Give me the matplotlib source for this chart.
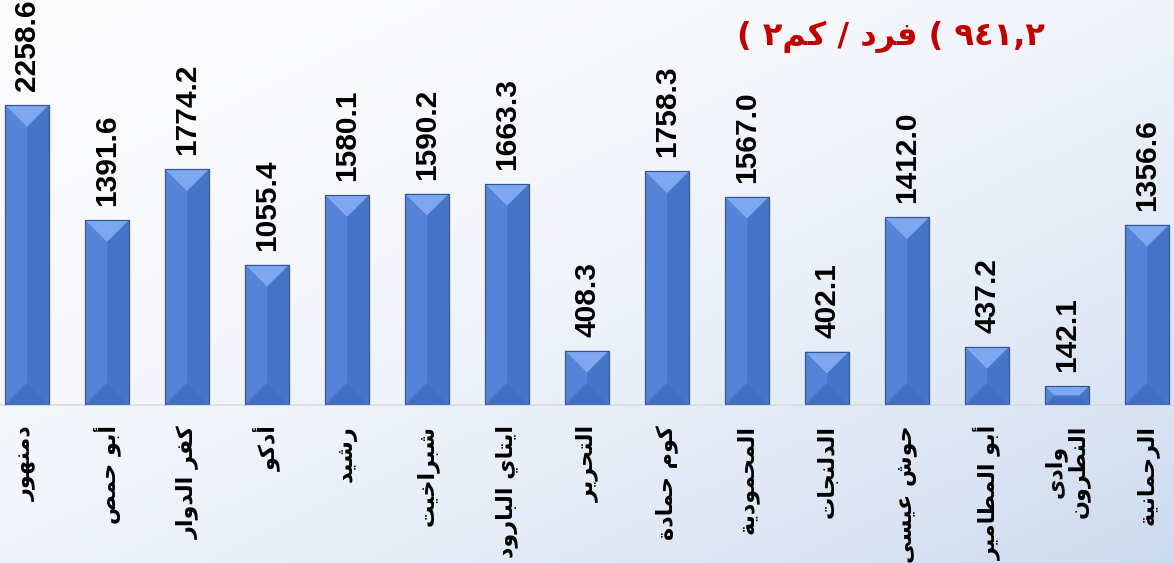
import numpy as np
import matplotlib
matplotlib.use("Agg")
import matplotlib.pyplot as plt
from matplotlib.patches import Polygon

# data
districts = ["دمنهور", "أبو حمص", "كفر الدوار", "أدكو", "رشيد", "شبراخيت",
             "ايتاي البارود", "التحرير", "كوم حمادة", "المحمودية", "الدلنجات",
             "حوش عيسى", "أبو المطامير", "وادى\nالنطرون", "الرحمانية"]
density = [2258.6, 1391.6, 1774.2, 1055.4, 1580.1, 1590.2, 1663.3, 408.3,
           1758.3, 1567.0, 402.1, 1412.0, 437.2, 142.1, 1356.6]
overall_value = "٩٤١,٢"
unit_word = "فرد"
unit_area = "كم"

# --- tiny arabic shaper (presentation forms) since matplotlib does no shaping
FORMS = {
    'ا': ('\uFE8D', '\uFE8E', None, None), 'أ': ('\uFE83', '\uFE84', None, None),
    'إ': ('\uFE87', '\uFE88', None, None), 'آ': ('\uFE81', '\uFE82', None, None),
    'ب': ('\uFE8F', '\uFE90', '\uFE91', '\uFE92'), 'ة': ('\uFE93', '\uFE94', None, None),
    'ت': ('\uFE95', '\uFE96', '\uFE97', '\uFE98'), 'ث': ('\uFE99', '\uFE9A', '\uFE9B', '\uFE9C'),
    'ج': ('\uFE9D', '\uFE9E', '\uFE9F', '\uFEA0'), 'ح': ('\uFEA1', '\uFEA2', '\uFEA3', '\uFEA4'),
    'خ': ('\uFEA5', '\uFEA6', '\uFEA7', '\uFEA8'), 'د': ('\uFEA9', '\uFEAA', None, None),
    'ذ': ('\uFEAB', '\uFEAC', None, None), 'ر': ('\uFEAD', '\uFEAE', None, None),
    'ز': ('\uFEAF', '\uFEB0', None, None), 'س': ('\uFEB1', '\uFEB2', '\uFEB3', '\uFEB4'),
    'ش': ('\uFEB5', '\uFEB6', '\uFEB7', '\uFEB8'), 'ص': ('\uFEB9', '\uFEBA', '\uFEBB', '\uFEBC'),
    'ض': ('\uFEBD', '\uFEBE', '\uFEBF', '\uFEC0'), 'ط': ('\uFEC1', '\uFEC2', '\uFEC3', '\uFEC4'),
    'ظ': ('\uFEC5', '\uFEC6', '\uFEC7', '\uFEC8'), 'ع': ('\uFEC9', '\uFECA', '\uFECB', '\uFECC'),
    'غ': ('\uFECD', '\uFECE', '\uFECF', '\uFED0'), 'ف': ('\uFED1', '\uFED2', '\uFED3', '\uFED4'),
    'ق': ('\uFED5', '\uFED6', '\uFED7', '\uFED8'), 'ك': ('\uFED9', '\uFEDA', '\uFEDB', '\uFEDC'),
    'ل': ('\uFEDD', '\uFEDE', '\uFEDF', '\uFEE0'), 'م': ('\uFEE1', '\uFEE2', '\uFEE3', '\uFEE4'),
    'ن': ('\uFEE5', '\uFEE6', '\uFEE7', '\uFEE8'), 'ه': ('\uFEE9', '\uFEEA', '\uFEEB', '\uFEEC'),
    'و': ('\uFEED', '\uFEEE', None, None), 'ى': ('\uFEEF', '\uFEF0', None, None),
    'ي': ('\uFEF1', '\uFEF2', '\uFEF3', '\uFEF4'),
}


def shape(line):
    out = []
    for i, c in enumerate(line):
        if c not in FORMS:
            out.append(c)
            continue
        iso, fin, ini, med = FORMS[c]
        prev = line[i - 1] if i > 0 else None
        nxt = line[i + 1] if i < len(line) - 1 else None
        jp = prev in FORMS and FORMS[prev][2] is not None
        jn = nxt in FORMS and ini is not None
        if jp and jn:
            out.append(med)
        elif jp:
            out.append(fin)
        elif jn:
            out.append(ini)
        else:
            out.append(iso)
    return ''.join(out)


def visual(text):
    return '\n'.join(shape(l)[::-1] for l in text.split('\n'))


W, H, DPI = 11.74, 5.63, 100
fig = plt.figure(figsize=(W, H), dpi=DPI)

# background gradient
bg = fig.add_axes([0, 0, 1, 1], zorder=-5)
gx, gy = np.meshgrid(np.linspace(0, 1, 300), np.linspace(0, 1, 150))
t = np.clip(0.5 * gx + 0.5 * gy, 0, 1) ** 2
c0 = np.array([0.985, 0.985, 0.99])
c1 = np.array([0.80, 0.855, 0.94])
grad = c0 + t[..., None] * (c1 - c0)
bg.imshow(grad, aspect='auto', extent=[0, 1, 0, 1], origin='upper')
bg.axis('off')

ax_rect = [0, 0.2806, 1, 0.7194]
ax = fig.add_axes(ax_rect)
ax.patch.set_alpha(0)
x = np.arange(len(density))
xlim = (-0.3375, 14.3375)
ylim = (0, 3049)
ax.set_xlim(*xlim)
ax.set_ylim(*ylim)

bw = 0.55
edge = '#34558f'
bars = ax.bar(x, density, width=bw, color='#4f7fd3', edgecolor=edge, linewidth=0.8, zorder=2)

# bevel look of the excel bars
px_x = (xlim[1] - xlim[0]) / (W * DPI * ax_rect[2])
px_y = (ylim[1] - ylim[0]) / (H * DPI * ax_rect[3])
for b in bars:
    x0, x1 = b.get_x(), b.get_x() + b.get_width()
    y0, y1 = 0, b.get_height()
    wpx = b.get_width() / px_x
    hpx = y1 / px_y
    d = min(wpx / 2, hpx / 2)
    dx, dy = d * px_x, d * px_y
    faces = [
        ([(x0, y1), (x1, y1), (x1 - dx, y1 - dy), (x0 + dx, y1 - dy)], '#7ea7ef'),
        ([(x0, y0), (x0 + dx, y0 + dy), (x0 + dx, y1 - dy), (x0, y1)], '#5384d7'),
        ([(x1, y0), (x1 - dx, y0 + dy), (x1 - dx, y1 - dy), (x1, y1)], '#4674c6'),
        ([(x0, y0), (x1, y0), (x1 - dx, y0 + dy), (x0 + dx, y0 + dy)], '#426fbf'),
    ]
    for pts, col in faces:
        ax.add_patch(Polygon(pts, closed=True, facecolor=col, edgecolor='none', zorder=3))
    ax.add_patch(Polygon([(x0, y0), (x1, y0), (x1, y1), (x0, y1)], closed=True,
                         facecolor='none', edgecolor=edge, linewidth=0.8, zorder=4))

for i, v in enumerate(density):
    ax.text(i, v + 14 * px_y, f"{v:.1f}", rotation=90, ha='center', va='bottom',
            fontsize=21.5, fontweight='bold', family='Liberation Sans', color='black')
    ax.text(i, -20 * px_y, visual(districts[i]), rotation=90, ha='center', va='top',
            multialignment='center', fontsize=16, fontweight='bold',
            family=['DejaVu Sans'], color='black', linespacing=1.0)

for s in ['top', 'left', 'right']:
    ax.spines[s].set_visible(False)
ax.spines['bottom'].set_color('#d9d9d9')
ax.spines['bottom'].set_linewidth(1.2)
ax.set_xticks([])
ax.set_yticks([])

title = "( ٢" + visual(unit_area) + " / " + visual(unit_word) + " ( " + overall_value
fig.text(1045 / 1174, 1 - 37 / 563, title, ha='right', va='center', fontsize=23,
         fontweight='bold', color='#c00000', family=['DejaVu Sans'])

fig.savefig("out.png", dpi=DPI)
